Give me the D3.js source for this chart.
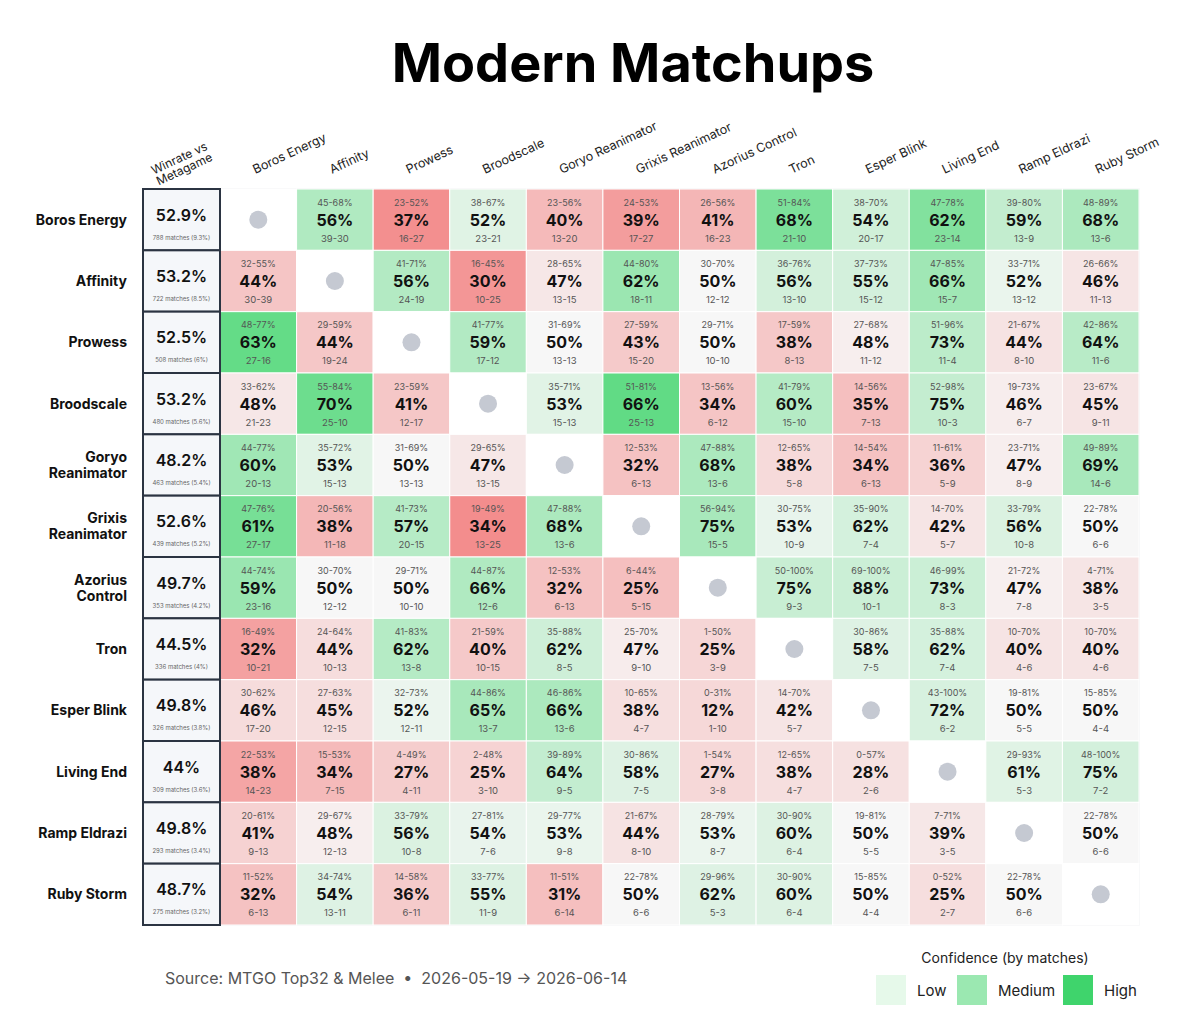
<!DOCTYPE html>
<html><head><meta charset="utf-8">
<script src="https://cdn.jsdelivr.net/npm/d3@7"></script>
<style>body{margin:0;background:#fff;font-family:Inter,"Noto Sans",sans-serif}</style>
</head><body><svg id="c" width="1200" height="1029"></svg>
<script>
const decks = ["Boros Energy","Affinity","Prowess","Broodscale","Goryo Reanimator","Grixis Reanimator","Azorius Control","Tron","Esper Blink","Living End","Ramp Eldrazi","Ruby Storm"];
const rowLabels = [["Boros Energy"],["Affinity"],["Prowess"],["Broodscale"],["Goryo","Reanimator"],["Grixis","Reanimator"],["Azorius","Control"],["Tron"],["Esper Blink"],["Living End"],["Ramp Eldrazi"],["Ruby Storm"]];
const overallWin = ["52.9%","53.2%","52.5%","53.2%","48.2%","52.6%","49.7%","44.5%","49.8%","44%","49.8%","48.7%"];
const overallMatches = ["788 matches (9.3%)","722 matches (8.5%)","508 matches (6%)","480 matches (5.6%)","463 matches (5.4%)","439 matches (5.2%)","353 matches (4.2%)","336 matches (4%)","326 matches (3.8%)","309 matches (3.6%)","293 matches (3.4%)","275 matches (3.2%)"];
// each cell: "ci|pct|record"
const matchups = [
 [null,"45-68|56|39-30","23-52|37|16-27","38-67|52|23-21","23-56|40|13-20","24-53|39|17-27","26-56|41|16-23","51-84|68|21-10","38-70|54|20-17","47-78|62|23-14","39-80|59|13-9","48-89|68|13-6"],
 ["32-55|44|30-39",null,"41-71|56|24-19","16-45|30|10-25","28-65|47|13-15","44-80|62|18-11","30-70|50|12-12","36-76|56|13-10","37-73|55|15-12","47-85|66|15-7","33-71|52|13-12","26-66|46|11-13"],
 ["48-77|63|27-16","29-59|44|19-24",null,"41-77|59|17-12","31-69|50|13-13","27-59|43|15-20","29-71|50|10-10","17-59|38|8-13","27-68|48|11-12","51-96|73|11-4","21-67|44|8-10","42-86|64|11-6"],
 ["33-62|48|21-23","55-84|70|25-10","23-59|41|12-17",null,"35-71|53|15-13","51-81|66|25-13","13-56|34|6-12","41-79|60|15-10","14-56|35|7-13","52-98|75|10-3","19-73|46|6-7","23-67|45|9-11"],
 ["44-77|60|20-13","35-72|53|15-13","31-69|50|13-13","29-65|47|13-15",null,"12-53|32|6-13","47-88|68|13-6","12-65|38|5-8","14-54|34|6-13","11-61|36|5-9","23-71|47|8-9","49-89|69|14-6"],
 ["47-76|61|27-17","20-56|38|11-18","41-73|57|20-15","19-49|34|13-25","47-88|68|13-6",null,"56-94|75|15-5","30-75|53|10-9","35-90|62|7-4","14-70|42|5-7","33-79|56|10-8","22-78|50|6-6"],
 ["44-74|59|23-16","30-70|50|12-12","29-71|50|10-10","44-87|66|12-6","12-53|32|6-13","6-44|25|5-15",null,"50-100|75|9-3","69-100|88|10-1","46-99|73|8-3","21-72|47|7-8","4-71|38|3-5"],
 ["16-49|32|10-21","24-64|44|10-13","41-83|62|13-8","21-59|40|10-15","35-88|62|8-5","25-70|47|9-10","1-50|25|3-9",null,"30-86|58|7-5","35-88|62|7-4","10-70|40|4-6","10-70|40|4-6"],
 ["30-62|46|17-20","27-63|45|12-15","32-73|52|12-11","44-86|65|13-7","46-86|66|13-6","10-65|38|4-7","0-31|12|1-10","14-70|42|5-7",null,"43-100|72|6-2","19-81|50|5-5","15-85|50|4-4"],
 ["22-53|38|14-23","15-53|34|7-15","4-49|27|4-11","2-48|25|3-10","39-89|64|9-5","30-86|58|7-5","1-54|27|3-8","12-65|38|4-7","0-57|28|2-6",null,"29-93|61|5-3","48-100|75|7-2"],
 ["20-61|41|9-13","29-67|48|12-13","33-79|56|10-8","27-81|54|7-6","29-77|53|9-8","21-67|44|8-10","28-79|53|8-7","30-90|60|6-4","19-81|50|5-5","7-71|39|3-5",null,"22-78|50|6-6"],
 ["11-52|32|6-13","34-74|54|13-11","14-58|36|6-11","33-77|55|11-9","11-51|31|6-14","22-78|50|6-6","29-96|62|5-3","30-90|60|6-4","15-85|50|4-4","0-52|25|2-7","22-78|50|6-6",null]
];
const legendItems = ["Low","Medium","High"];
const legendColors = ["#e6f9ea","#9be8b1","#3fd46c"];

const svg = d3.select("#c");
const x = d3.scaleBand().domain(decks).range([220,1139]);
const y = d3.scaleBand().domain(decks).range([189,925]);
const ox = 143;

svg.append("text").attr("x",633).attr("y",82).attr("text-anchor","middle")
  .attr("font-size",54).attr("font-weight",700).attr("fill","#000").text("Modern Matchups");

const green = d3.interpolateRgb("#f7f7f7","#45d670");
const red = d3.interpolateRgb("#f7f7f7","#f27a7a");
function cellColor(p, n){
  const t = Math.min(1, Math.abs(p-50)/15) * Math.min(1, n/45);
  return p>=50 ? green(t) : red(t);
}

const cells = [];
matchups.forEach((row,i)=>row.forEach((c,j)=>{
  if(!c){cells.push({r:decks[i],c:decks[j],mirror:true});return;}
  const [ci,p,rec] = c.split("|");
  const [w,l] = rec.split("-").map(Number);
  cells.push({r:decks[i],c:decks[j],ci,p:+p,rec,n:w+l});
}));

const g = svg.append("g");
g.append("rect").attr("x",220).attr("y",189).attr("width",919).attr("height",736).attr("fill","none").attr("stroke","#e5e7eb");
const cg = g.selectAll("g.cell").data(cells).join("g").attr("class","cell")
  .attr("transform",d=>`translate(${x(d.c)},${y(d.r)})`);
cg.append("rect").attr("width",x.bandwidth()).attr("height",y.bandwidth())
  .attr("fill",d=>d.mirror?"#fff":cellColor(d.p,d.n)).attr("stroke","#fff").attr("stroke-width",1);
const bw=x.bandwidth(), bh=y.bandwidth();
cg.filter(d=>d.mirror).append("circle").attr("cx",bw/2).attr("cy",bh/2).attr("r",9).attr("fill","#c5c9d2");
const nm = cg.filter(d=>!d.mirror);
nm.append("text").attr("x",bw/2).attr("y",bh/2-14).attr("text-anchor","middle").attr("font-size",9).attr("fill","#555").text(d=>d.ci+"%");
nm.append("text").attr("x",bw/2).attr("y",bh/2+6).attr("text-anchor","middle").attr("font-size",16).attr("font-weight",700).attr("fill","#111").text(d=>d.p+"%");
nm.append("text").attr("x",bw/2).attr("y",bh/2+22).attr("text-anchor","middle").attr("font-size",9.5).attr("fill","#555").text(d=>d.rec);

// overall column
const og = svg.selectAll("g.ov").data(decks).join("g").attr("class","ov")
  .attr("transform",d=>`translate(${ox},${y(d)})`);
og.append("rect").attr("width",220-ox).attr("height",bh).attr("fill","#f5f7fa").attr("stroke","#2b3442").attr("stroke-width",2);
og.append("text").attr("x",(220-ox)/2).attr("y",bh/2+1).attr("text-anchor","middle").attr("font-size",16).attr("font-weight",600).attr("fill","#111").text((d,i)=>overallWin[i]);
og.append("text").attr("x",(220-ox)/2).attr("y",bh/2+20).attr("text-anchor","middle").attr("font-size",6).attr("fill","#666").text((d,i)=>overallMatches[i]);

// row labels
svg.selectAll("text.rl").data(decks).join("text").attr("class","rl")
  .attr("text-anchor","end").attr("font-size",14).attr("font-weight",700).attr("fill","#111")
  .each(function(d,i){
    const lines=rowLabels[i], cy=y(d)+bh/2+5-(lines.length-1)*8;
    d3.select(this).selectAll("tspan").data(lines).join("tspan").attr("x",127).attr("y",(l,k)=>cy+k*16).text(l=>l);
  });

// column labels
svg.selectAll("text.cl").data(decks).join("text").attr("class","cl")
  .attr("transform",d=>`translate(${x(d)+bw/2-3},${174}) rotate(-25)`)
  .attr("font-size",12.5).attr("fill","#222").text(d=>d);
svg.append("text").attr("transform",`translate(${ox+38},${162}) rotate(-25)`)
  .attr("font-size",12).attr("fill","#222").attr("text-anchor","middle")
  .selectAll("tspan").data(["Winrate vs","Metagame"]).join("tspan").attr("x",0).attr("dy",(d,i)=>i?12:0).text(d=>d);

// footer
svg.append("text").attr("x",165).attr("y",984).attr("font-size",16).attr("fill","#555").style("white-space","pre")
  .text("Source: MTGO Top32 & Melee  \u2022  2026-05-19 \u2192 2026-06-14");
svg.append("text").attr("x",1005).attr("y",963).attr("text-anchor","middle").attr("font-size",14).attr("fill","#222").text("Confidence (by matches)");
const lx=[876,957,1063];
legendItems.forEach((t,i)=>{
  svg.append("rect").attr("x",lx[i]).attr("y",975).attr("width",30).attr("height",30).attr("fill",legendColors[i]);
  svg.append("text").attr("x",lx[i]+41).attr("y",996).attr("font-size",15).attr("fill","#222").text(t);
});
</script></body></html>
